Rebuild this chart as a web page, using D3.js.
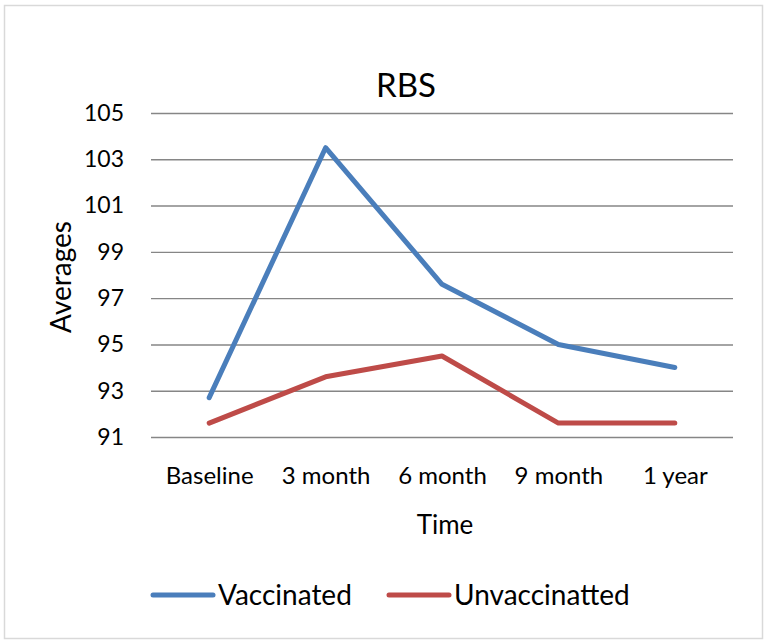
<!DOCTYPE html>
<html>
<head>
<meta charset="utf-8">
<script src="https://cdn.jsdelivr.net/npm/d3@7"></script>
<style>
  body { margin: 0; background: #fff; }
  text { font-family: Lato, "Open Sans", sans-serif; fill: #000; }
</style>
</head>
<body>
<div id="chart"></div>
<script>
// data
const categories = ["Baseline", "3 month", "6 month", "9 month", "1 year"];
const vaccinated = [92.7, 103.5, 97.6, 95.0, 94.0];
const unvaccinated = [91.6, 93.6, 94.5, 91.6, 91.6];
const yTicks = [91, 93, 95, 97, 99, 101, 103, 105];
const seriesNames = ["Vaccinated", "Unvaccinatted"];
const colors = ["#4a7ebb", "#be4b48"];

function createLineChart() {
    const W = 770, H = 643;
    const margin = { top: 113, right: 37, bottom: 206, left: 151 };
    const width = W - margin.left - margin.right;
    const height = H - margin.top - margin.bottom;

    const svg = d3.select("#chart")
        .append("svg")
        .attr("width", W)
        .attr("height", H);

    // chart border
    svg.append("rect")
        .attr("x", 4.5).attr("y", 5.5)
        .attr("width", 758).attr("height", 633)
        .attr("fill", "none")
        .attr("stroke", "#d9d9d9")
        .attr("stroke-width", 1.5);

    const g = svg.append("g")
        .attr("transform", `translate(${margin.left},${margin.top})`);

    const x = d3.scalePoint()
        .domain(categories)
        .range([0, width])
        .padding(0.5);

    const y = d3.scaleLinear()
        .domain([91, 105])
        .range([height, 0]);

    // gridlines + y labels
    const yAxis = g.append("g")
        .call(d3.axisLeft(y).tickValues(yTicks).tickSize(-width).tickPadding(27).tickFormat(d3.format("d")));
    yAxis.select(".domain").remove();
    yAxis.selectAll(".tick line").attr("stroke", "#868686").attr("stroke-width", 1.4);
    yAxis.selectAll(".tick text").style("font-size", "23px").attr("fill", "#000");

    // x labels
    const xAxis = g.append("g")
        .attr("transform", `translate(0,${height})`)
        .call(d3.axisBottom(x).tickSize(0).tickPadding(30));
    xAxis.select(".domain").remove();
    xAxis.selectAll(".tick text").style("font-size", "24px").attr("fill", "#000");

    // lines
    const line = d3.line()
        .x((d, i) => x(categories[i]))
        .y(d => y(d));

    [vaccinated, unvaccinated].forEach((s, k) => {
        g.append("path")
            .datum(s)
            .attr("d", line)
            .attr("fill", "none")
            .attr("stroke", colors[k])
            .attr("stroke-width", 5)
            .attr("stroke-linejoin", "round")
            .attr("stroke-linecap", "round");
    });

    // title
    svg.append("text")
        .attr("x", 406)
        .attr("y", 97)
        .attr("text-anchor", "middle")
        .style("font-size", "33px")
        .text("RBS");

    // axis titles
    svg.append("text")
        .attr("x", margin.left + width / 2 + 3)
        .attr("y", 534)
        .attr("text-anchor", "middle")
        .style("font-size", "26px")
        .text("Time");

    svg.append("text")
        .attr("transform", `translate(71,${margin.top + height / 2 + 2}) rotate(-90)`)
        .attr("text-anchor", "middle")
        .style("font-size", "28px")
        .text("Averages");

    // legend
    const legendX = [153, 389];
    seriesNames.forEach((name, k) => {
        const lg = svg.append("g").attr("transform", `translate(${legendX[k]},595)`);
        lg.append("line")
            .attr("x1", 0).attr("x2", 60)
            .attr("stroke", colors[k])
            .attr("stroke-width", 5)
            .attr("stroke-linecap", "round");
        lg.append("text")
            .attr("x", 65)
            .attr("y", 10)
            .style("font-size", "28px")
            .text(name);
    });
}

createLineChart();
</script>
</body>
</html>
